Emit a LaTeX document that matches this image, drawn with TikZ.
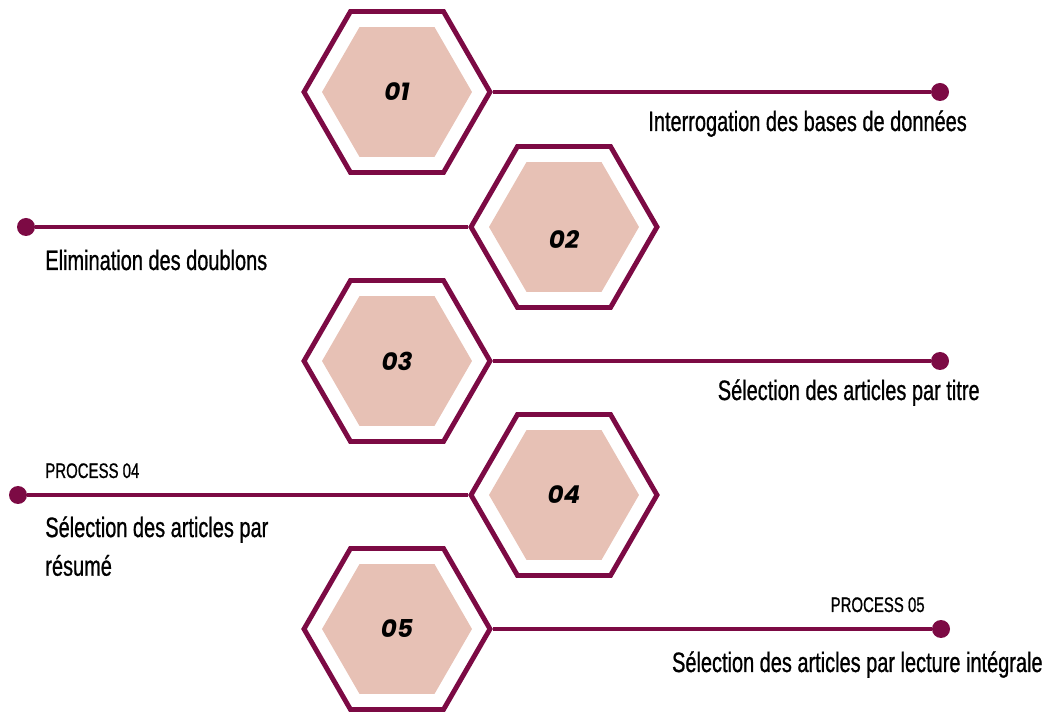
\documentclass[tikz,border=0pt]{standalone}
\usepackage{fontspec}
\setmainfont{Liberation Sans}[FakeStretch=0.71, FakeBold=0.8]
\newfontfamily\numfont{Poppins}
\usetikzlibrary{shapes.geometric}

\definecolor{wine}{RGB}{124,10,68}
\definecolor{blush}{RGB}{231,193,181}

\begin{document}
\begin{tikzpicture}[x=0.02cm, y=-0.02cm,
    hexout/.style={draw=wine, line width=2.8pt, regular polygon, regular polygon sides=6,
        minimum size=3.72cm, inner sep=0pt},
    hexin/.style={fill=blush, regular polygon, regular polygon sides=6,
        minimum size=3cm, inner sep=0pt},
    numtxt/.style={font=\numfont\bfseries\itshape\fontsize{14}{16}\selectfont},
    dot/.style={circle, fill=wine, minimum size=0.36cm, inner sep=0pt},
    link/.style={wine, line width=2.2pt},
    steptxt/.style={font=\fontsize{16}{19}\selectfont, inner sep=0pt, align=left},
    proctxt/.style={font=\fontsize{12}{14}\selectfont, inner sep=0pt}]
    \useasboundingbox (0,0) rectangle (1052,712);

    % the five hexagons, alternating left and right
    \node[hexout] (h1) at (397,92) {};
    \node[hexout] (h2) at (564,227) {};
    \node[hexout] (h3) at (397,361) {};
    \node[hexout] (h4) at (564,495) {};
    \node[hexout] (h5) at (397,629) {};
    \node[hexin] at (h1) {};
    \node[hexin] at (h2) {};
    \node[hexin] at (h3) {};
    \node[hexin] at (h4) {};
    \node[hexin] at (h5) {};

    % step numbers
    \node[numtxt] (n1) at (h1) {01};
    \node[numtxt, yshift=-0.26cm] (n2) at (h2) {02};
    \node[numtxt] (n3) at (h3) {03};
    \node[numtxt] (n4) at (h4) {04};
    \node[numtxt] (n5) at (h5) {05};

    % end dots and their lines
    \node[dot] (d1) at (940,92) {};
    \node[dot] (d2) at (26,227) {};
    \node[dot] (d3) at (940,361) {};
    \node[dot] (d4) at (18,495) {};
    \node[dot] (d5) at (941,629) {};
    \draw[link] (h1.east) -- (d1);
    \draw[link] (h2.west) -- (d2);
    \draw[link] (h3.east) -- (d3);
    \draw[link] (h4.west) -- (d4);
    \draw[link] (h5.east) -- (d5);

    % captions
    \node[steptxt, anchor=base west] (t1) at (648,131) {Interrogation des bases de données};
    \node[steptxt, anchor=base west] (t2) at (45,270) {Elimination des doublons};
    \node[steptxt, anchor=base east] (t3) at (980,400) {Sélection des articles par titre};
    \node[proctxt, anchor=base west] (p4) at (45,478) {PROCESS 04};
    \node[steptxt, anchor=north west] (t4) at (45,516) {Sélection des articles par\\[3pt]résumé};
    \node[proctxt, anchor=base east] (p5) at (925,612) {PROCESS 05};
    \node[steptxt, anchor=base east] (t5) at (1043,672) {Sélection des articles par lecture intégrale};
\end{tikzpicture}
\end{document}
